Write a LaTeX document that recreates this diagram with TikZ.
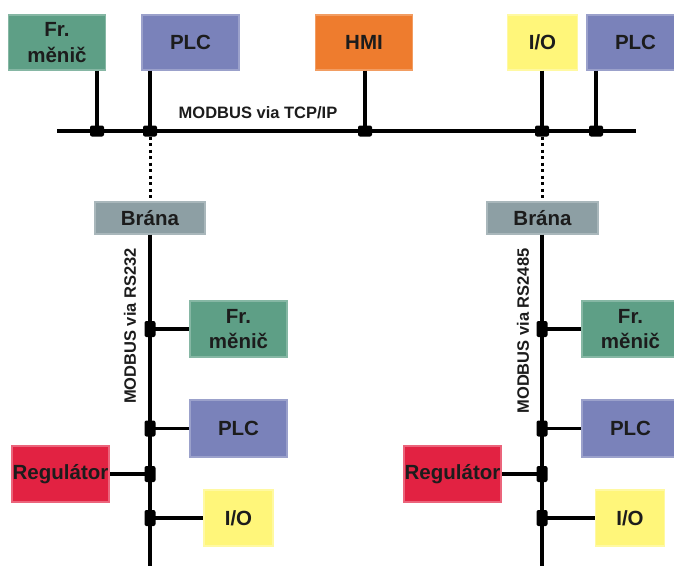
\documentclass[tikz,border=0pt]{standalone}
\usepackage{fontspec}
\setmainfont{Liberation Sans}
\definecolor{cgreen}{RGB}{94,159,134}
\definecolor{cblue}{RGB}{122,130,186}
\definecolor{corange}{RGB}{238,124,46}
\definecolor{cyellow}{RGB}{255,246,122}
\definecolor{cred}{RGB}{226,34,66}
\definecolor{cgray}{RGB}{141,159,164}
\definecolor{ctext}{RGB}{28,28,28}
\begin{document}
\begin{tikzpicture}[x=1pt,y=-1pt,
  box/.style={rectangle,inner sep=0pt,minimum width=97pt,minimum height=55pt,
    font=\fontsize{20.5}{23.5}\selectfont\bfseries,text=ctext,align=center,line width=1.2pt},
  gbox/.style={box,fill=cgreen,draw=cgreen!75!white},
  bbox/.style={box,fill=cblue,draw=cblue!75!white},
  obox/.style={box,fill=corange,draw=corange!75!white},
  ybox/.style={box,fill=cyellow,draw=cyellow!70!white,minimum width=70pt},
  rbox/.style={box,fill=cred,draw=cred!70!white},
  gwbox/.style={box,fill=cgray,draw=cgray!75!white,minimum width=110pt,minimum height=32pt},
  junch/.style={rectangle,fill=black,inner sep=0pt,minimum width=14pt,minimum height=11pt,rounded corners=2pt},
  juncv/.style={rectangle,fill=black,inner sep=0pt,minimum width=11pt,minimum height=16pt,rounded corners=2pt},
  wire/.style={line width=3.2pt,black},
  dotwire/.style={line width=3pt,black,dash pattern=on 3pt off 3.5pt},
  lab/.style={font=\fontsize{16.5}{17}\selectfont\bfseries,text=ctext,inner sep=0pt}
]
\clip (0,0) rectangle (674,565);
\fill[white] (0,0) rectangle (674,565);

% top row
\node[gbox] (fr1) at (57,42.5) {Fr.\\[2pt]měnič};
\node[bbox] (plc1) at (190.5,42.5) {PLC};
\node[obox] (hmi) at (364,42.5) {HMI};
\node[ybox] (io1) at (542.5,42.5) {I/O};
\node[bbox] (plc2) at (635.5,42.5) {PLC};

% bus
\coordinate (busL) at (57,131);
\coordinate (busR) at (636,131);
\draw[wire] (busL) -- (busR);
\node[lab] (tcp) at (258,113) {MODBUS via TCP/IP};

\node[junch] (jb1) at (97,131) {};
\node[junch] (jb2) at (150,131) {};
\node[junch] (jb3) at (365,131) {};
\node[junch] (jb4) at (542,131) {};
\node[junch] (jb5) at (596,131) {};
\draw[wire] (fr1.south -| jb1) -- (jb1.center);
\draw[wire] (plc1.south -| jb2) -- (jb2.center);
\draw[wire] (hmi.south -| jb3) -- (jb3.center);
\draw[wire] (io1.south -| jb4) -- (jb4.center);
\draw[wire] (plc2.south -| jb5) -- (jb5.center);

% left gateway branch
\node[gwbox] (br1) at (150,218) {Brána};
\draw[dotwire] (jb2.south) -- (br1.north);
\coordinate (endL) at (150,568);
\draw[wire] (br1.south) -- (endL);
\node[lab,rotate=90] (rs232) at (130,326) {MODBUS via RS232};

\node[gbox,minimum height=56pt] (fr2) at (238.5,329) {Fr.\\[2pt]měnič};
\node[bbox,minimum height=57pt] (plc3) at (238.5,428.5) {PLC};
\node[rbox,minimum height=56pt] (reg1) at (60.5,474) {Regulátor};
\node[ybox,minimum width=69pt,minimum height=56pt] (io2) at (238.5,518) {I/O};

\node[juncv] (jl1) at (150,329) {};
\node[juncv] (jl2) at (150,428.5) {};
\node[juncv] (jl3) at (150,474) {};
\node[juncv] (jl4) at (150,518) {};
\draw[wire] (jl1.center) -- (fr2.west);
\draw[wire] (jl2.center) -- (plc3.west);
\draw[wire] (jl3.center) -- (reg1.east);
\draw[wire] (jl4.center) -- (io2.west);

% right gateway branch
\node[gwbox,minimum width=111pt] (br2) at (542.5,218) {Brána};
\draw[dotwire] (jb4.south) -- (br2.north -| jb4);
\coordinate (endR) at (542,568);
\draw[wire] (br2.south -| endR) -- (endR);
\node[lab,rotate=90] (rs485) at (523,331) {MODBUS via RS2485};

\node[gbox,minimum height=56pt] (fr3) at (630.5,329) {Fr.\\[2pt]měnič};
\node[bbox,minimum height=57pt] (plc4) at (630.5,428.5) {PLC};
\node[rbox,minimum height=56pt] (reg2) at (452.5,474) {Regulátor};
\node[ybox,minimum width=69pt,minimum height=56pt] (io3) at (630,518) {I/O};

\node[juncv] (jr1) at (542,329) {};
\node[juncv] (jr2) at (542,428.5) {};
\node[juncv] (jr3) at (542,474) {};
\node[juncv] (jr4) at (542,518) {};
\draw[wire] (jr1.center) -- (fr3.west);
\draw[wire] (jr2.center) -- (plc4.west);
\draw[wire] (jr3.center) -- (reg2.east);
\draw[wire] (jr4.center) -- (io3.west);
\end{tikzpicture}
\end{document}
